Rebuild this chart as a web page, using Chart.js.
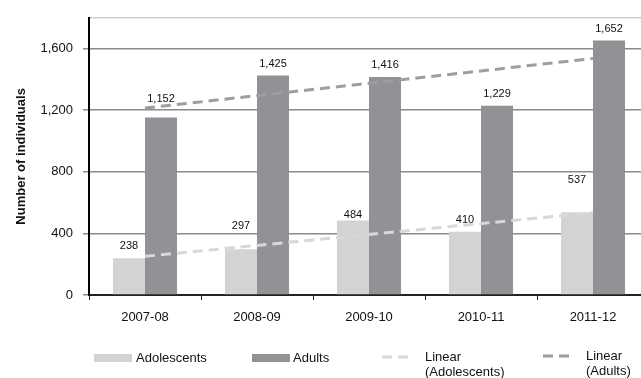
<!DOCTYPE html>
<html>
<head>
<meta charset="utf-8">
<script src="https://cdn.jsdelivr.net/npm/chart.js@4"></script>
<style>
  html, body { margin: 0; padding: 0; background: #fff; overflow: hidden; width: 641px; height: 378px; }
  #wrap { width: 660px; height: 378px; }
</style>
</head>
<body>
<div id="wrap"><canvas id="chart" width="660" height="378"></canvas></div>
<script>
// ── Data ──
const years = ['2007-08', '2008-09', '2009-10', '2010-11', '2011-12'];
const adolescents = [238, 297, 484, 410, 537];
const adults = [1152, 1425, 1416, 1229, 1652];
// linear trend values read at each year
const adolescentsTrend = [251, 322, 393, 464, 535];
const adultsTrend = [1214, 1295, 1375, 1455, 1536];
const yTicks = [0, 400, 800, 1200, 1600];

// ── Colours ──
const C_ADOL = '#d3d3d5';
const C_ADULT = '#919295';
const C_ADOL_TREND = '#d8d8d8';
const C_ADULT_TREND = '#9e9e9e';
const FONT = '"Liberation Sans", Arial, sans-serif';

Chart.defaults.font.family = FONT;
Chart.defaults.color = '#222';

// value labels over the bars, a few nudged up to clear the trend lines
const labelNudge = { 0: [0, 11, -7, 0, 20], 1: [7, 0, 0, 0, 0] };
const barLabels = {
  id: 'barLabels',
  afterDatasetsDraw(chart) {
    const ctx = chart.ctx;
    ctx.save();
    ctx.font = '11px ' + FONT;
    ctx.fillStyle = '#111';
    ctx.textAlign = 'center';
    ctx.textBaseline = 'middle';
    [0, 1].forEach(di => {
      const meta = chart.getDatasetMeta(di);
      meta.data.forEach((bar, i) => {
        const v = chart.data.datasets[di].data[i];
        ctx.fillText(v.toLocaleString('en-US'), bar.x, bar.y - 12 - labelNudge[di][i]);
      });
    });
    ctx.restore();
  }
};

// legend laid out along the bottom
const bottomLegend = {
  id: 'bottomLegend',
  afterDraw(chart) {
    const ctx = chart.ctx;
    ctx.save();
    ctx.font = '13px ' + FONT;
    ctx.fillStyle = '#111';
    ctx.textBaseline = 'middle';
    ctx.textAlign = 'left';

    ctx.fillStyle = C_ADOL;
    ctx.fillRect(94, 354, 38, 8);
    ctx.fillStyle = '#111';
    ctx.fillText('Adolescents', 136, 358);

    ctx.fillStyle = C_ADULT;
    ctx.fillRect(252, 354, 38, 8);
    ctx.fillStyle = '#111';
    ctx.fillText('Adults', 293, 358);

    ctx.lineWidth = 3;
    ctx.setLineDash([10, 6]);
    ctx.strokeStyle = C_ADOL_TREND;
    ctx.beginPath(); ctx.moveTo(382, 357); ctx.lineTo(414, 357); ctx.stroke();
    ctx.strokeStyle = C_ADULT_TREND;
    ctx.beginPath(); ctx.moveTo(543, 356); ctx.lineTo(575, 356); ctx.stroke();
    ctx.setLineDash([]);

    ctx.fillText('Linear', 425, 357);
    ctx.fillText('(Adolescents)', 425, 372);
    ctx.fillText('Linear', 586, 356);
    ctx.fillText('(Adults)', 586, 371);
    ctx.restore();
  }
};

new Chart(document.getElementById('chart'), {
  type: 'bar',
  data: {
    labels: years,
    datasets: [
      { label: 'Adolescents', data: adolescents, backgroundColor: C_ADOL, order: 1,
        categoryPercentage: 0.572, barPercentage: 1 },
      { label: 'Adults', data: adults, backgroundColor: C_ADULT, order: 1,
        categoryPercentage: 0.572, barPercentage: 1 },
      { type: 'line', label: 'Linear (Adolescents)', data: adolescentsTrend, order: 0,
        borderColor: C_ADOL_TREND, borderWidth: 3, borderDash: [10, 6], pointRadius: 0, fill: false },
      { type: 'line', label: 'Linear (Adults)', data: adultsTrend, order: 0,
        borderColor: C_ADULT_TREND, borderWidth: 3, borderDash: [10, 6], pointRadius: 0, fill: false }
    ]
  },
  options: {
    responsive: false,
    animation: false,
    layout: { padding: { top: 14, right: 11, bottom: 0, left: 0 } },
    plugins: { legend: { display: false }, tooltip: { enabled: false } },
    scales: {
      x: {
        offset: true,
        afterFit: s => { s.height = 83; },
        grid: { offset: true, drawOnChartArea: false, drawTicks: true, tickLength: 5, color: '#222', lineWidth: 1 },
        border: { color: '#222', width: 2 },
        ticks: { font: { size: 13 }, color: '#111', padding: 10, maxRotation: 0 }
      },
      y: {
        min: 0,
        max: 1800,
        afterFit: s => { s.width = 89; },
        afterBuildTicks: s => { s.ticks = yTicks.concat([1800]).map(v => ({ value: v })); },
        grid: {
          color: c => c.tick && c.tick.value === 1800 ? '#cfcfcf' : '#8a8a8a',
          tickColor: c => c.tick && c.tick.value === 1800 ? 'rgba(0,0,0,0)' : '#8a8a8a',
          lineWidth: 1.5,
          tickLength: 6
        },
        border: { color: '#000', width: 2 },
        ticks: {
          font: { size: 13 },
          color: '#111',
          padding: 10,
          callback: v => v === 1800 ? '' : v.toLocaleString('en-US')
        },
        title: {
          display: true,
          text: 'Number of individuals',
          font: { size: 13, weight: 'bold' },
          color: '#111',
          padding: { top: 14, bottom: 0 }
        }
      }
    }
  },
  plugins: [barLabels, bottomLegend]
});
</script>
</body>
</html>
